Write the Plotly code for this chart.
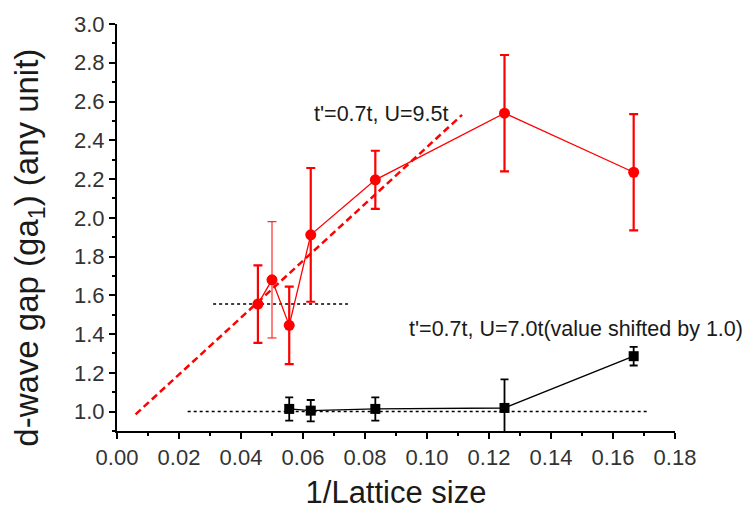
import plotly.graph_objects as go

# 1/L values (L = 22, 20, 18, 16, 12, 8, 6)
inv_L_u95 = [1/22, 1/20, 1/18, 1/16, 1/12, 1/8, 1/6]
gap_u95 = [1.555, 1.680, 1.445, 1.912, 2.196, 2.540, 2.235]
err_u95 = [0.20, 0.30, 0.20, 0.345, 0.150, 0.300, 0.300]

# U = 7.0t series, values shifted by 1.0
inv_L_u70 = [1/18, 1/16, 1/12, 1/8, 1/6]
gap_u70 = [1.014, 1.005, 1.014, 1.019, 1.286]
err_u70 = [0.060, 0.055, 0.060, 0.147, 0.048]

# linear extrapolation of the U = 9.5t gap
fit_x = [0.006, 0.1113]
fit_y = [0.986, 2.531]

# reference levels
level_u95_x = [0.031, 0.0745]
level_u95_y = [1.555, 1.555]
level_u70_x = [0.0228, 0.1712]
level_u70_y = [1.0, 1.0]

label_u95 = "t'=0.7t, U=9.5t"
label_u70 = "t'=0.7t, U=7.0t(value shifted by 1.0)"

RED = "#ff0000"
FONT = "Arial, Liberation Sans, sans-serif"
# thinner error bar for the L = 20 point
red_bar_width = [2.2, 1.0, 2.2, 2.2, 2.2, 2.2, 2.2]

fig = go.Figure()

fig.add_trace(go.Scatter(x=level_u95_x, y=level_u95_y, mode="lines",
                         line=dict(color="black", width=1.5, dash="3px,3px"),
                         showlegend=False, hoverinfo="skip"))
fig.add_trace(go.Scatter(x=level_u70_x, y=level_u70_y, mode="lines",
                         line=dict(color="black", width=1.5, dash="3px,3px"),
                         showlegend=False, hoverinfo="skip"))
fig.add_trace(go.Scatter(x=fit_x, y=fit_y, mode="lines",
                         line=dict(color=RED, width=2.5, dash="7px,4px"),
                         showlegend=False, hoverinfo="skip"))

# error bars of the U = 9.5t series, one trace per point
for xi, yi, ei, wi in zip(inv_L_u95, gap_u95, err_u95, red_bar_width):
    fig.add_trace(go.Scatter(
        x=[xi], y=[yi], mode="markers", marker=dict(size=1, color=RED, opacity=0),
        error_y=dict(type="data", array=[ei], color=RED, thickness=wi, width=4.5),
        showlegend=False, hoverinfo="skip"))

fig.add_trace(go.Scatter(
    x=inv_L_u95, y=gap_u95, mode="lines+markers",
    line=dict(color=RED, width=1.3),
    marker=dict(symbol="circle", size=11, color=RED),
    showlegend=False))

fig.add_trace(go.Scatter(
    x=inv_L_u70, y=gap_u70, mode="lines+markers",
    line=dict(color="black", width=1.4),
    marker=dict(symbol="square", size=10, color="black"),
    error_y=dict(type="data", array=err_u70, color="black", thickness=1.8, width=4),
    showlegend=False))

fig.add_annotation(x=0.0629, y=2.535, xref="x", yref="y", text=label_u95,
                   showarrow=False, xanchor="left", yanchor="middle",
                   font=dict(family=FONT, size=21.5, color="#1a1a1a"))
fig.add_annotation(x=0.0935, y=1.425, xref="x", yref="y", text=label_u70,
                   showarrow=False, xanchor="left", yanchor="middle",
                   font=dict(family=FONT, size=21.5, color="#1a1a1a"))

fig.add_annotation(x=-0.158, y=0.45, xref="paper", yref="paper",
                   text="d-wave gap (ga<sub>1</sub>) (any unit)", textangle=-90,
                   showarrow=False, xanchor="center", yanchor="middle",
                   font=dict(family=FONT, size=33, color="#1a1a1a"))

axis_common = dict(
    showline=True, linecolor="black", linewidth=2,
    ticks="outside", ticklen=6, tickwidth=2, tickcolor="black",
    showgrid=False, zeroline=False, mirror=False,
    tickfont=dict(family=FONT, size=22, color="#333333"),
)

fig.update_xaxes(range=[0, 0.18], tick0=0, dtick=0.02, tickformat=".2f",
                 minor=dict(ticks="outside", ticklen=3, tickwidth=1.5,
                            tickcolor="black", dtick=0.01),
                 title=dict(text="1/Lattice size", standoff=12,
                            font=dict(family=FONT, size=31, color="#1a1a1a")),
                 **axis_common)
fig.update_yaxes(range=[0.9, 3.0], tick0=1.0, dtick=0.2, tickformat=".1f",
                 minor=dict(ticks="outside", ticklen=3, tickwidth=1.5,
                            tickcolor="black", dtick=0.1),
                 **axis_common)

fig.update_layout(
    width=754, height=516,
    margin=dict(l=117, r=79, t=20, b=83),
    paper_bgcolor="white", plot_bgcolor="white",
    font=dict(family=FONT),
)

fig.write_html("out.html")
